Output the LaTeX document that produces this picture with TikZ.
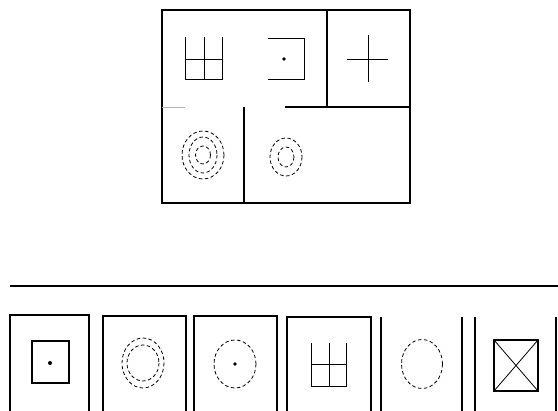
\documentclass[tikz,border=0pt]{standalone}
\begin{document}
\begin{tikzpicture}[x=1pt,y=-1pt,
  frame/.style={line width=1.1pt,black},
  icon/.style={line width=0.8pt,black},
  dsh/.style={line width=0.8pt,black,dash pattern=on 3.5pt off 2.5pt}]
\useasboundingbox (0,0) rectangle (558,411);
% top puzzle frame
\draw[frame] (162,10) rectangle (410,203);
\draw[frame] (327,10) -- (327,107);
\draw[frame] (285,107) -- (410,107);
\draw[line width=0.4pt,black!30] (162,107) -- (185,107);
\draw[frame] (244,107) -- (244,203);
% grid icon
\draw[icon] (185,37) -- (185,79) -- (222,79) -- (222,37);
\draw[icon] (204,37) -- (204,79);
\draw[icon] (185,59) -- (222,59);
% open square with dot
\draw[icon] (268,38) -- (304,38) -- (304,79) -- (268,79);
\fill (284,59) circle (1.9);
% cross
\draw[icon] (347,59) -- (388,59);
\draw[icon] (368,35) -- (368,82);
% triple ellipses
\draw[dsh] (203,155) ellipse (21 and 24);
\draw[dsh] (203,155) ellipse (14 and 18);
\draw[dsh] (203,155) ellipse (7.5 and 9);
% double ellipses
\draw[dsh] (286,157) ellipse (16 and 19);
\draw[dsh] (286,157) ellipse (8 and 10);
% separator
\draw[frame] (10,286) -- (558,286);
\draw[line width=1.6pt] (290,286) -- (360,286);
% option boxes
\draw[frame] (10,411) -- (10,315) -- (89,315) -- (89,411);
\draw[frame] (103,411) -- (103,316) -- (186,316) -- (186,411);
\draw[frame] (194,411) -- (194,316) -- (277,316) -- (277,411);
\draw[frame] (287,411) -- (287,317) -- (371,317) -- (371,411);
\draw[frame] (381,317) -- (381,411);
\draw[frame] (462,317) -- (462,411);
\draw[frame] (475,317) -- (475,411);
\draw[frame] (556,317) -- (556,411);
% option 1
\draw[line width=1.1pt] (32,341) rectangle (69,383);
\fill (50,363) circle (2);
% option 2
\draw[dsh] (143,363) ellipse (21 and 25);
\draw[dsh] (143,363) ellipse (16 and 18);
% option 3
\draw[dsh] (235,364) ellipse (21 and 24);
\fill (235,364) circle (1.9);
% option 4
\draw[icon] (311,343) -- (311,386) -- (346,386) -- (346,343);
\draw[icon] (329,343) -- (329,386);
\draw[icon] (311,364) -- (346,364);
% option 5
\draw[dsh] (422,364) ellipse (20.5 and 24.5);
% option 6
\draw[line width=1.1pt] (494,340) rectangle (538,391);
\draw[icon] (494,340) -- (538,391);
\draw[icon] (538,340) -- (494,391);
\end{tikzpicture}
\end{document}
